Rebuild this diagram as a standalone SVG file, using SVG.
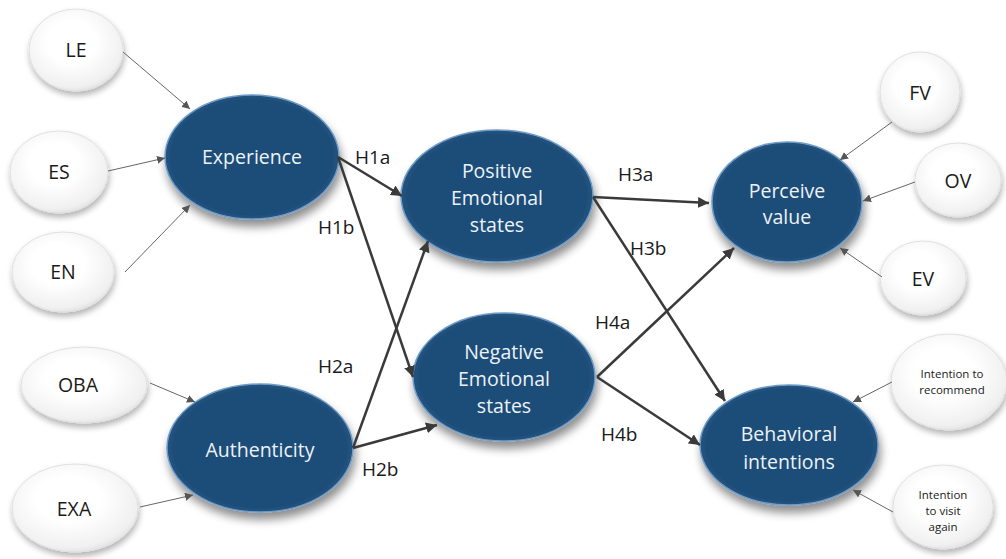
<svg xmlns="http://www.w3.org/2000/svg" width="1006" height="559" viewBox="0 0 1006 559">
  <defs>
    <radialGradient id="blueFill" cx="0.5" cy="0.5" r="0.55">
      <stop offset="0.85" stop-color="#1f4e79"/>
      <stop offset="1" stop-color="#2a5d8c"/>
    </radialGradient>
    <radialGradient id="whiteFill" cx="0.45" cy="0.4" r="0.65">
      <stop offset="0.4" stop-color="#ffffff"/>
      <stop offset="0.85" stop-color="#f0f0f0"/>
      <stop offset="1" stop-color="#d9d9d9"/>
    </radialGradient>
    <filter id="shadow" x="-30%" y="-30%" width="160%" height="170%">
      <feGaussianBlur in="SourceAlpha" stdDeviation="5"/>
      <feOffset dx="2" dy="7" result="b"/>
      <feComponentTransfer><feFuncA type="linear" slope="0.45"/></feComponentTransfer>
      <feMerge><feMergeNode/><feMergeNode in="SourceGraphic"/></feMerge>
    </filter>
    <filter id="softShadow" x="-30%" y="-30%" width="160%" height="170%">
      <feGaussianBlur in="SourceAlpha" stdDeviation="3"/>
      <feOffset dx="1" dy="4" result="b"/>
      <feComponentTransfer><feFuncA type="linear" slope="0.3"/></feComponentTransfer>
      <feMerge><feMergeNode/><feMergeNode in="SourceGraphic"/></feMerge>
    </filter>
    <marker id="thinHead" viewBox="0 0 10 10" refX="10" refY="5" markerWidth="8" markerHeight="8" markerUnits="userSpaceOnUse" orient="auto">
      <path d="M0,0 L10,5 L0,10 z" fill="#555"/>
    </marker>
    <marker id="thickHead" viewBox="0 0 10 10" refX="10" refY="5" markerWidth="11" markerHeight="11" markerUnits="userSpaceOnUse" orient="auto">
      <path d="M0,0 L10,5 L0,10 z" fill="#3a3a3a"/>
    </marker>
  </defs>
  <style>
    .blue { fill: url(#blueFill); stroke: #6f9cc6; stroke-width: 1.5; filter: url(#shadow); }
    .white { fill: url(#whiteFill); stroke: #e0e0e0; stroke-width: 1; filter: url(#softShadow); }
    .btxt { font-family: "Open Sans", "Liberation Sans", sans-serif; font-size: 19.5px; fill: #eef2f6; text-anchor: middle; }
    .wtxt { font-family: "Open Sans", "Liberation Sans", sans-serif; font-size: 19.5px; fill: #1a1a1a; text-anchor: middle; }
    .stxt { font-family: "Open Sans", "Liberation Sans", sans-serif; font-size: 11.5px; fill: #1a1a1a; text-anchor: middle; }
    .lbl { font-family: "Open Sans", "Liberation Sans", sans-serif; font-size: 19px; fill: #1a1a1a; }
    .thin { stroke: #666; stroke-width: 1; fill: none; marker-end: url(#thinHead); }
    .thick { stroke: #3a3a3a; stroke-width: 2.5; fill: none; marker-end: url(#thickHead); }
  </style>

  <!-- indicator nodes -->
  <g id="le"><ellipse class="white" cx="76" cy="50" rx="47" ry="41"/><text class="wtxt" x="76" y="57">LE</text></g>
  <g id="es"><ellipse class="white" cx="59" cy="172" rx="49" ry="41"/><text class="wtxt" x="59" y="179">ES</text></g>
  <g id="en"><ellipse class="white" cx="63" cy="272" rx="51" ry="40"/><text class="wtxt" x="63" y="279">EN</text></g>
  <g id="oba"><ellipse class="white" cx="84" cy="385" rx="63" ry="38"/><text class="wtxt" x="78" y="392">OBA</text></g>
  <g id="exa"><ellipse class="white" cx="75" cy="508" rx="63" ry="44"/><text class="wtxt" x="74" y="516">EXA</text></g>
  <g id="fv"><ellipse class="white" cx="920" cy="92" rx="40" ry="40"/><text class="wtxt" x="920" y="100">FV</text></g>
  <g id="ov"><ellipse class="white" cx="958" cy="180" rx="43" ry="37"/><text class="wtxt" x="958" y="188">OV</text></g>
  <g id="ev"><ellipse class="white" cx="923" cy="278" rx="43" ry="37"/><text class="wtxt" x="923" y="286">EV</text></g>
  <g id="rec"><ellipse class="white" cx="949" cy="382" rx="58" ry="48"/><text class="stxt" x="952" y="378">Intention to</text><text class="stxt" x="952" y="394">recommend</text></g>
  <g id="visit"><ellipse class="white" cx="943" cy="507" rx="50" ry="42"/><text class="stxt" x="943" y="499">Intention</text><text class="stxt" x="943" y="515">to visit</text><text class="stxt" x="943" y="531">again</text></g>

  <!-- construct nodes -->
  <g id="experience"><ellipse class="blue" cx="252" cy="157" rx="87" ry="62"/><text class="btxt" x="252" y="164">Experience</text></g>
  <g id="authenticity"><ellipse class="blue" cx="260" cy="448" rx="93" ry="64"/><text class="btxt" x="260" y="457">Authenticity</text></g>
  <g id="positive"><ellipse class="blue" cx="497" cy="196" rx="96" ry="66"/><text class="btxt" x="497" y="178">Positive</text><text class="btxt" x="497" y="205">Emotional</text><text class="btxt" x="497" y="232">states</text></g>
  <g id="negative"><ellipse class="blue" cx="504" cy="377" rx="91" ry="64"/><text class="btxt" x="504" y="359">Negative</text><text class="btxt" x="504" y="386">Emotional</text><text class="btxt" x="504" y="413">states</text></g>
  <g id="perceive"><ellipse class="blue" cx="787" cy="202" rx="75" ry="60"/><text class="btxt" x="787" y="198">Perceive</text><text class="btxt" x="787" y="224">value</text></g>
  <g id="behavioral"><ellipse class="blue" cx="789" cy="445" rx="89" ry="60"/><text class="btxt" x="789" y="441">Behavioral</text><text class="btxt" x="789" y="469">intentions</text></g>

  <!-- connectors -->
  <g id="connectors">
    <line class="thin" x1="123" y1="52" x2="190" y2="109"/>
    <line class="thin" x1="108" y1="171" x2="165" y2="158"/>
    <line class="thin" x1="125" y1="272" x2="190" y2="205"/>
    <line class="thin" x1="150" y1="383" x2="195" y2="402"/>
    <line class="thin" x1="140" y1="507" x2="193" y2="495"/>
    <line class="thin" x1="892" y1="122" x2="840" y2="160"/>
    <line class="thin" x1="915" y1="182" x2="863" y2="201"/>
    <line class="thin" x1="882" y1="277" x2="840" y2="248"/>
    <line class="thin" x1="892" y1="382" x2="853" y2="402"/>
    <line class="thin" x1="893" y1="512" x2="853" y2="490"/>

    <line class="thick" x1="338" y1="157" x2="402" y2="196"/>
    <line class="thick" x1="338" y1="157" x2="413" y2="377"/>
    <line class="thick" x1="353" y1="448" x2="428" y2="241"/>
    <line class="thick" x1="353" y1="448" x2="437" y2="425"/>
    <line class="thick" x1="593" y1="197" x2="709" y2="203"/>
    <line class="thick" x1="593" y1="197" x2="725" y2="401"/>
    <line class="thick" x1="597" y1="377" x2="734" y2="248"/>
    <line class="thick" x1="597" y1="377" x2="700" y2="445"/>
  </g>

  <!-- hypothesis labels -->
  <g id="labels">
    <text class="lbl" x="355" y="164">H1a</text>
    <text class="lbl" x="318" y="234">H1b</text>
    <text class="lbl" x="318" y="373">H2a</text>
    <text class="lbl" x="362" y="476">H2b</text>
    <text class="lbl" x="618" y="181">H3a</text>
    <text class="lbl" x="630" y="255">H3b</text>
    <text class="lbl" x="595" y="329">H4a</text>
    <text class="lbl" x="601" y="441">H4b</text>
  </g>
</svg>
